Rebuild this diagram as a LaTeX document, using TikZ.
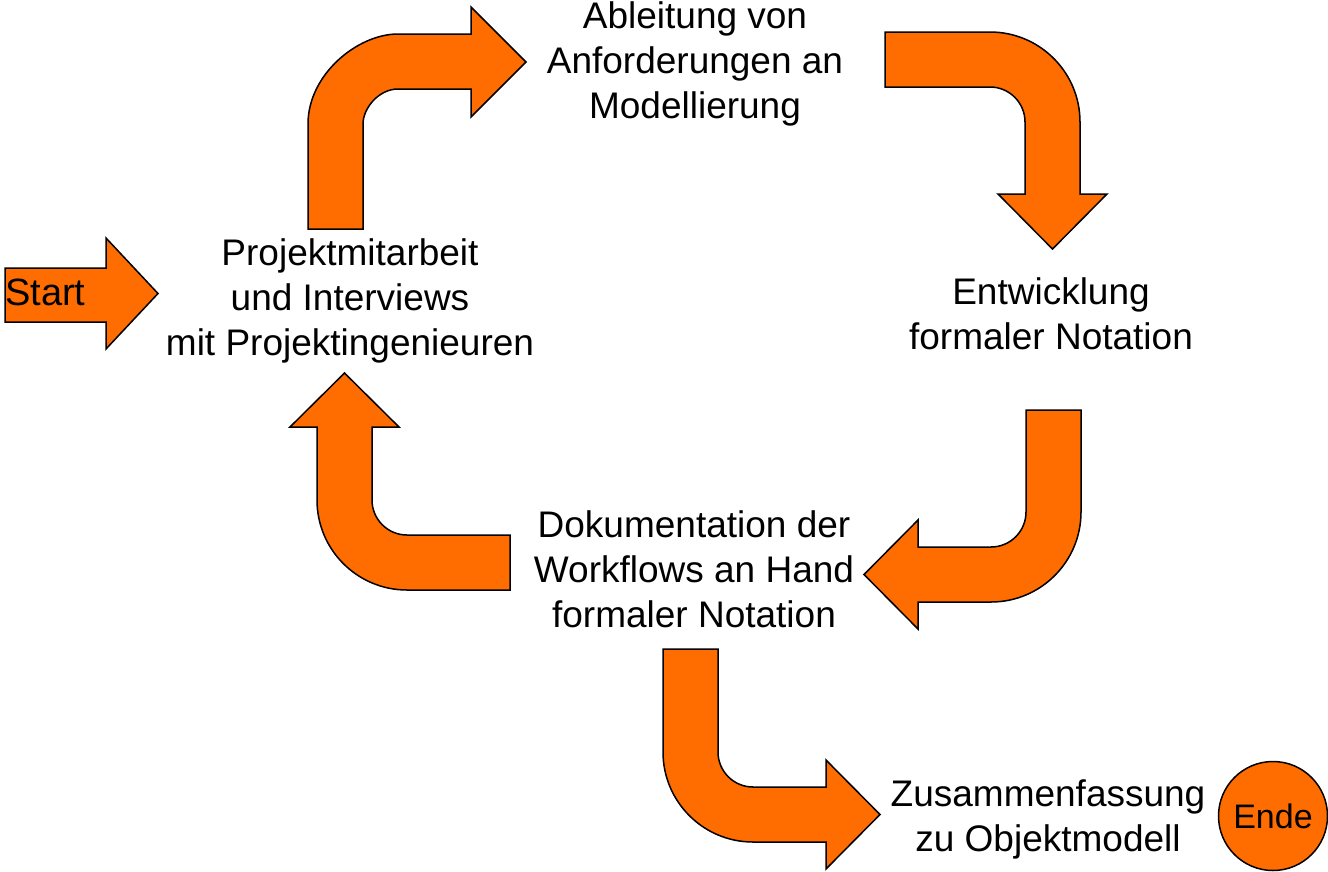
\documentclass[tikz,border=0pt]{standalone}
\usepackage{fontspec}
\setmainfont{Liberation Sans}
\definecolor{flowfill}{HTML}{FF6C00}
\begin{document}
\begin{tikzpicture}[x=1pt,y=-1pt,
  blockarrow/.style={draw=black, fill=flowfill, line width=1.5pt, line join=miter},
  steptext/.style={align=center, anchor=north, inner sep=0pt, font=\fontsize{37}{45}\selectfont},
]
\useasboundingbox (0,0) rectangle (1328,871);

% start arrow
\draw[blockarrow] (5,268) -- (106,268) -- (106,238) -- (158,293.5) -- (106,349) -- (106,322) -- (5,322) -- cycle;
\node[anchor=base west, inner sep=0pt, font=\fontsize{38}{45}\selectfont] (start) at (5,305) {Start};

% bent arrow: up, then right
\draw[blockarrow] (308,229) -- (308,124) .. controls (308,74.3) and (357.7,34) .. (398,34)
  -- (471,34) -- (471,7) -- (526,62) -- (471,117) -- (471,89) -- (398,89)
  .. controls (378.7,89) and (363,108.3) .. (363,124) -- (363,229) -- cycle;

% bent arrow: right, then down
\draw[blockarrow] (885,32) -- (990,32) .. controls (1039.7,32) and (1080,72.3) .. (1080,122)
  -- (1080,194) -- (1107,194) -- (1052.5,249) -- (998,194) -- (1025,194) -- (1025,122)
  .. controls (1025,102.7) and (1009.3,87) .. (990,87) -- (885,87) -- cycle;

% bent arrow: down, then left
\draw[blockarrow] (1026,410) -- (1081,410) -- (1081,512) .. controls (1081,561.7) and (1040.7,602) .. (991,602)
  -- (918,602) -- (918,629) -- (864,574.5) -- (918,520) -- (918,547) -- (991,547)
  .. controls (1010.3,547) and (1026,531.3) .. (1026,512) -- cycle;

% bent arrow: left, then up
\draw[blockarrow] (510,535) -- (510,590) -- (407,590) .. controls (357.3,590) and (317,549.7) .. (317,500)
  -- (317,427) -- (290,427) -- (344.5,373) -- (399,427) -- (372,427) -- (372,500)
  .. controls (372,519.3) and (387.7,535) .. (407,535) -- cycle;

% bent arrow: down, then right
\draw[blockarrow] (663,649) -- (718,649) -- (718,752) .. controls (718,771.3) and (733.7,787) .. (753,787)
  -- (826,787) -- (826,760) -- (880,814.5) -- (826,869) -- (826,842) -- (753,842)
  .. controls (703.3,842) and (663,801.7) .. (663,752) -- cycle;

% process steps
\node[steptext] (ableitung) at (695,0) {\rule{0pt}{28pt}Ableitung von\\Anforderungen an\\Modellierung};
\node[steptext] (projekt) at (350,237) {\rule{0pt}{28pt}Projektmitarbeit\\und Interviews\\mit Projektingenieuren};
\node[steptext] (entwicklung) at (1051,276) {\rule{0pt}{28pt}Entwicklung\\formaler Notation};
\node[steptext] (doku) at (694,509) {\rule{0pt}{28pt}Dokumentation der\\Workflows an Hand\\formaler Notation};
\node[steptext] (zusammen) at (1048,778) {\rule{0pt}{28pt}Zusammenfassung\\zu Objektmodell};

% end marker
\node[circle, draw=black, fill=flowfill, line width=1.5pt, minimum size=109pt, inner sep=0pt,
  font=\fontsize{34}{40}\selectfont] (ende) at (1273,816) {Ende};
\end{tikzpicture}
\end{document}
